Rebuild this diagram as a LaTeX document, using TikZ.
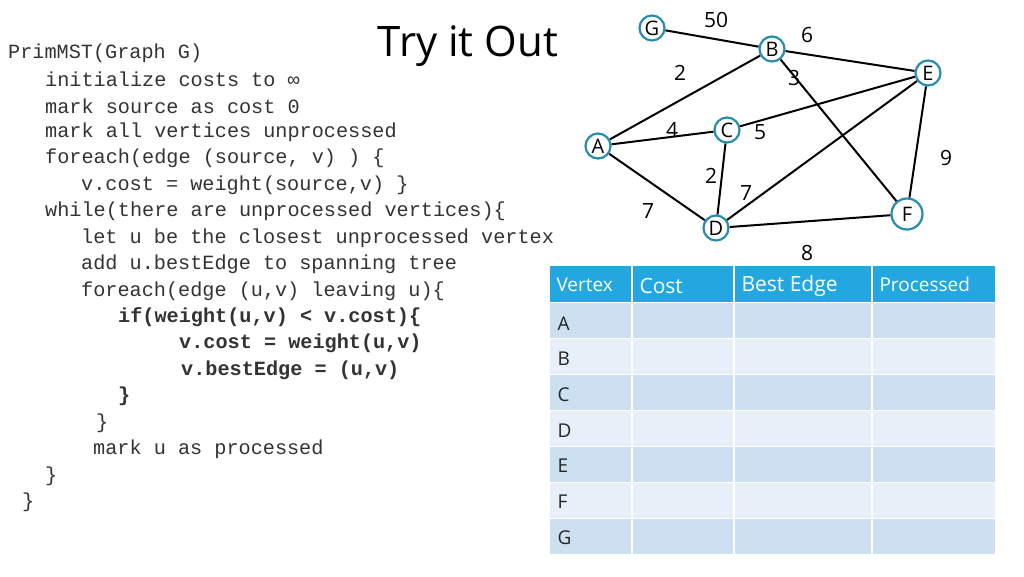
\documentclass[tikz,border=0pt]{standalone}
\usepackage{fontspec}
\setmainfont{Open Sans}
\newfontfamily\codefont{Liberation Mono}
\begin{document}
\begin{tikzpicture}[x=1pt,y=-1pt,
  vtx/.style={circle,draw={rgb,255:red,40;green,140;blue,175},line width=2.2pt,fill=white,inner sep=0pt,minimum size=25pt,font=\fontsize{20}{20}\selectfont},
  edge/.style={line width=2pt},
  wt/.style={font=\fontsize{21}{21}\selectfont},
  code/.style={anchor=west,inner sep=0pt,text=black!80,font=\codefont\fontsize{20.2}{20.2}\selectfont},
  bcode/.style={code,font=\codefont\bfseries\fontsize{20.2}{20.2}\selectfont},
  hdr/.style={anchor=west,text=white,font=\fontsize{21}{21}\selectfont},
  rowl/.style={anchor=west,text=black!85,font=\fontsize{19}{19}\selectfont}]
\useasboundingbox (0,0) rectangle (1024,576);
\fill[white] (0,0) rectangle (1024,576);
\node[font=\fontsize{42}{42}\selectfont] (title) at (468,46) {Try it Out};
% code
\node[code] (c1) at (8,53) {PrimMST(Graph G)};
\node[code] (c2) at (45,79) {initialize costs to ∞};
\node[code] (c3) at (45,106) {mark source as cost 0};
\node[code] (c4) at (45,132) {mark all vertices unprocessed};
\node[code] (c5) at (45,158) {foreach(edge (source, v) ) \{};
\node[code] (c6) at (81,185) {v.cost = weight(source,v) \}};
\node[code] (c7) at (45,211) {while(there are unprocessed vertices)\{};
\node[code] (c8) at (81,238) {let u be the closest unprocessed vertex};
\node[code] (c9) at (81,264) {add u.bestEdge to spanning tree};
\node[code] (c10) at (81,291) {foreach(edge (u,v) leaving u)\{};
\node[bcode] (c11) at (118,317) {if(weight(u,v) < v.cost)\{};
\node[bcode] (c12) at (179,343) {v.cost = weight(u,v)};
\node[bcode] (c13) at (181,370) {v.bestEdge = (u,v)};
\node[bcode] (c14) at (118,396) {\}};
\node[code] (c15) at (96,423) {\}};
\node[code] (c16) at (93,449) {mark u as processed};
\node[code] (c17) at (45,476) {\}};
\node[code] (c18) at (22,502) {\}};
% graph
\node[vtx] (G) at (652,28) {G};
\node[vtx] (B) at (772,49) {B};
\node[vtx] (E) at (928,73) {E};
\node[vtx] (C) at (727,130) {C};
\node[vtx] (A) at (598,146) {A};
\node[vtx] (D) at (716,228) {D};
\node[vtx,minimum size=31pt] (F) at (907,214) {F};
\draw[edge] (G) -- (B);
\draw[edge] (B) -- (E);
\draw[edge] (A) -- (B);
\draw[edge] (B) -- (F);
\draw[edge] (C) -- (E);
\draw[edge] (A) -- (C);
\draw[edge] (C) -- (D);
\draw[edge] (D) -- (E);
\draw[edge] (A) -- (D);
\draw[edge] (D) -- (F);
\draw[edge] (E) -- (F);
\node[wt] (w1) at (716,20) {50};
\node[wt] (w2) at (807,35) {6};
\node[wt] (w3) at (680,73) {2};
\node[wt] (w4) at (794,78) {3};
\node[wt] (w5) at (672,130) {4};
\node[wt] (w6) at (760,132) {5};
\node[wt] (w7) at (946,158) {9};
\node[wt] (w8) at (711,176) {2};
\node[wt] (w9) at (746,193) {7};
\node[wt] (w10) at (648,211) {7};
\node[wt] (w11) at (807,253) {8};
% table
\definecolor{hdrc}{HTML}{22A7E0}
\definecolor{rowa}{HTML}{CCE0F1}
\definecolor{rowb}{HTML}{E7F0F8}
\fill[hdrc] (550,266) rectangle (995,302);
\foreach \i in {0,...,6}{
  \pgfmathtruncatemacro\m{mod(\i,2)}
  \ifnum\m=0 \def\rc{rowa}\else\def\rc{rowb}\fi
  \fill[\rc] (550,{302+36*\i}) rectangle (995,{338+36*\i});
}
\foreach \y in {302,338,374,410,446,482,518}{\draw[white,line width=1pt] (550,\y) -- (995,\y);}
\foreach \x in {632,734,872}{\draw[white,line width=1.5pt] (\x,266) -- (\x,554);}
\node[hdr,font=\fontsize{19}{19}\selectfont] (h1) at (553,285) {Vertex};
\node[hdr] (h2) at (636,286) {Cost};
\node[hdr] (h3) at (738,286) {Best Edge};
\node[hdr,font=\fontsize{19}{19}\selectfont] (h4) at (876,284) {Processed};
\node[rowl] (rA) at (554,324) {A};
\node[rowl] (rB) at (554,359) {B};
\node[rowl] (rC) at (554,395) {C};
\node[rowl] (rD) at (554,431) {D};
\node[rowl] (rE) at (554,466) {E};
\node[rowl] (rF) at (554,502) {F};
\node[rowl] (rG) at (554,538) {G};
\end{tikzpicture}
\end{document}
